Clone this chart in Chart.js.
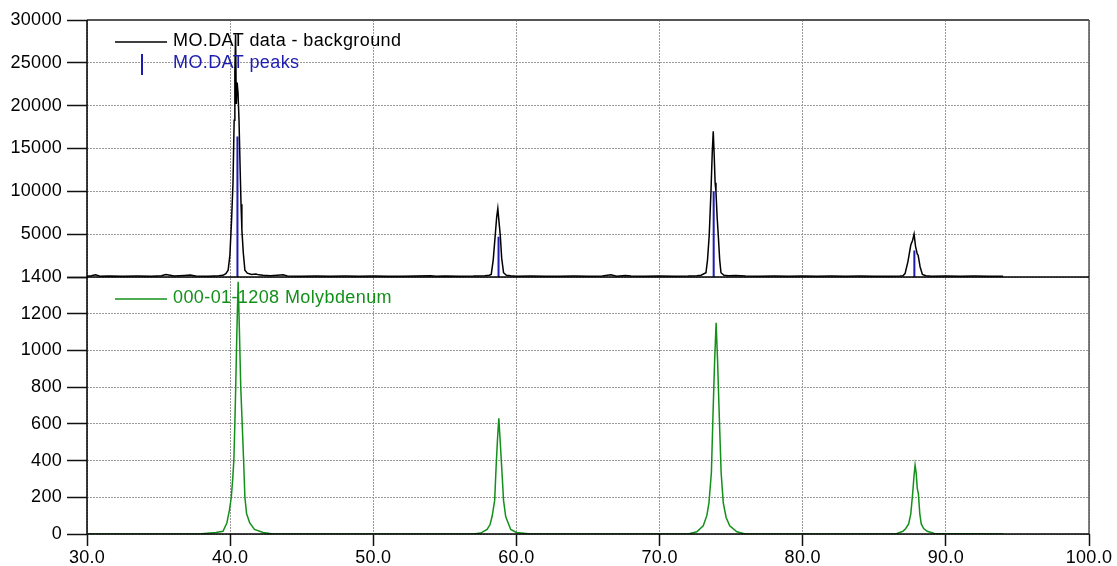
<!DOCTYPE html>
<html lang="en">
<head>
  <meta charset="UTF-8">
  <title>MO.DAT pattern</title>
  <script src="https://cdn.jsdelivr.net/npm/chart.js"></script>
  <style>
    html, body { margin: 0; padding: 0; background: #fff; }
    #wrap { width: 1117px; height: 566px; }
  </style>
</head>
<body>
  <div id="wrap"><canvas id="xrd"></canvas></div>

  <script>
    // MO.DAT data - background (top panel)
    const dataX = [30.0, 30.3, 30.6, 30.9, 31.5, 32.5, 33.5, 34.5, 35.2, 35.5, 35.8, 36.1, 36.8, 37.2, 37.6, 38.5, 39.2, 39.5, 39.7,
      39.86, 39.98, 40.1, 40.2, 40.28, 40.33, 40.38, 40.43, 40.49, 40.55, 40.62, 40.7, 40.76, 40.82, 40.92, 41.03, 41.2, 41.5, 41.8, 42.0, 42.3, 42.8, 43.3, 43.7, 44.0,
      45, 46, 47, 48, 49, 50, 51, 52, 53, 54, 54.4, 55, 56, 57, 57.8, 58.1, 58.24, 58.38, 58.52, 58.62, 58.7, 58.78, 58.87, 58.97, 59.1, 59.3, 59.6,
      60, 61, 62, 63, 64, 65, 66, 66.6, 67, 67.6, 68, 69, 70, 71, 72, 72.6, 72.9, 73.24, 73.35, 73.47, 73.59, 73.68, 73.75, 73.82, 73.88, 73.94, 74.02, 74.1, 74.2, 74.29, 74.5, 74.8, 75.3,
      76, 77, 78, 79, 80, 81, 82, 83, 84, 85, 86, 86.8, 87.0, 87.15, 87.35, 87.55, 87.68, 87.78, 87.88, 88.0, 88.06, 88.2, 88.36, 88.6, 89, 90, 91, 92, 93, 94];
    const dataY = [100, 150, 250, 100, 120, 100, 110, 100, 150, 280, 200, 120, 180, 220, 120, 100, 150, 200, 400,
      800, 2500, 6650, 11000, 18300, 24000, 28300, 20200, 22700, 21500, 18300, 12500, 8500, 5500, 2800, 800, 450, 300, 350, 250, 200, 150, 200, 250, 130,
      100, 110, 100, 110, 100, 110, 100, 100, 110, 150, 100, 120, 100, 110, 150, 200, 300, 2000, 4900, 7000, 8000, 6500, 4900, 2200, 500, 200, 150,
      100, 110, 100, 100, 110, 100, 120, 250, 100, 180, 110, 100, 110, 100, 110, 150, 200, 500, 2000, 4900, 9960, 14500, 17000, 14000, 11000, 9960, 7000, 4900, 2000, 500, 200, 150, 180,
      110, 100, 110, 100, 110, 100, 110, 100, 110, 100, 100, 120, 150, 400, 1800, 3735, 4300, 5020, 3600, 2700, 2570, 1200, 300, 150, 100, 110, 100, 110, 100, 100];

    // MO.DAT peaks (sticks)
    const peakX = [40.51, 58.75, 73.78, 87.80];
    const peakY = [16400, 4700, 10000, 3100];

    // 000-01-1208 Molybdenum (bottom panel)
    const refX = [30, 38, 39, 39.5, 39.77, 39.95, 40.08, 40.18, 40.26, 40.33, 40.39, 40.47, 40.56, 40.65, 40.74, 40.84, 40.94, 41.03, 41.15, 41.37, 41.7, 42.3, 43,
      57, 57.5, 57.95, 58.15, 58.3, 58.48, 58.58, 58.68, 58.77, 58.87, 58.97, 59.1, 59.25, 59.6, 60, 61,
      72, 72.6, 73.05, 73.3, 73.45, 73.62, 73.74, 73.85, 73.95, 74.05, 74.16, 74.3, 74.45, 74.65, 74.9, 75.4, 76,
      86.5, 87.0, 87.2, 87.4, 87.55, 87.68, 87.78, 87.85, 87.93, 88.0, 88.08, 88.18, 88.28, 88.45, 88.7, 89.2, 94];
    const refY = [0, 2, 8, 15, 60, 130, 200, 300, 403, 605, 802, 1100, 1374, 1100, 802, 605, 403, 200, 110, 60, 25, 8, 0,
      0, 5, 25, 50, 95, 183, 365, 520, 630, 500, 365, 183, 95, 25, 8, 0,
      0, 12, 45, 100, 170, 335, 670, 950, 1150, 950, 670, 335, 170, 90, 45, 12, 0,
      0, 15, 30, 55, 110, 220, 320, 375, 330, 250, 220, 110, 55, 30, 15, 3, 0];

    const xTicks = [30, 40, 50, 60, 70, 80, 90, 100];
    const topTicks = [0, 5000, 10000, 15000, 20000, 25000, 30000];
    const botTicks = [0, 200, 400, 600, 800, 1000, 1200, 1400];

    const FONT = "'Liberation Sans', Arial, sans-serif";
    const BLUE = '#1c1cb0';
    const GREEN = '#13901a';

    const pts = (xs, ys) => xs.map((x, i) => ({ x: x, y: ys[i] }));
    // each stick: baseline -> top -> gap
    const sticks = [];
    peakX.forEach((x, i) => {
      sticks.push({ x: x, y: 0 }, { x: x, y: peakY[i] }, { x: x, y: null });
    });

    const gridBase = {
      color: '#9a9a9a',
      lineWidth: 1,
      tickColor: '#111',
      tickWidth: 1.5,
      tickBorderDash: [],
    };
    const tickFont = { family: FONT, size: 18 };

    // frame, panel divider and in-plot legends
    const framePlugin = {
      id: 'frame',
      beforeDraw(chart) {
        // the original labels are drawn a little wide
        chart.ctx.letterSpacing = '0.3px';
      },
      afterDraw(chart) {
        const { ctx, chartArea: a, scales } = chart;
        const mid = scales.yBot.top;
        ctx.save();
        ctx.setLineDash([]);
        ctx.strokeStyle = '#555';
        ctx.lineWidth = 2;
        ctx.beginPath(); ctx.moveTo(a.left, a.top); ctx.lineTo(a.right, a.top); ctx.stroke();
        ctx.lineWidth = 1.5;
        ctx.beginPath(); ctx.moveTo(a.right, a.top); ctx.lineTo(a.right, a.bottom); ctx.stroke();
        ctx.strokeStyle = '#000';
        ctx.beginPath(); ctx.moveTo(a.left, mid); ctx.lineTo(a.right, mid); ctx.stroke();
        ctx.beginPath(); ctx.moveTo(a.left, a.top); ctx.lineTo(a.left, a.bottom); ctx.lineTo(a.right, a.bottom); ctx.stroke();

        // legends
        ctx.font = '18px ' + FONT;
        ctx.letterSpacing = '0.4px';
        ctx.textBaseline = 'middle';
        ctx.textAlign = 'left';
        const lx = a.left + 28, tx = a.left + 86;
        ctx.lineWidth = 1.5;
        ctx.strokeStyle = '#000';
        ctx.beginPath(); ctx.moveTo(lx, a.top + 22); ctx.lineTo(lx + 52, a.top + 22); ctx.stroke();
        ctx.fillStyle = '#000';
        ctx.fillText('MO.DAT data - background', tx, a.top + 21);
        ctx.strokeStyle = BLUE;
        ctx.lineWidth = 2;
        ctx.beginPath(); ctx.moveTo(lx + 27, a.top + 34); ctx.lineTo(lx + 27, a.top + 55); ctx.stroke();
        ctx.fillStyle = BLUE;
        ctx.fillText('MO.DAT peaks', tx, a.top + 43);
        ctx.strokeStyle = GREEN;
        ctx.lineWidth = 1.5;
        ctx.beginPath(); ctx.moveTo(lx, mid + 22); ctx.lineTo(lx + 52, mid + 22); ctx.stroke();
        ctx.fillStyle = GREEN;
        ctx.fillText('000-01-1208 Molybdenum', tx, mid + 21);
        ctx.restore();
      }
    };

    new Chart(document.getElementById('xrd').getContext('2d'), {
      type: 'line',
      data: {
        datasets: [
          {
            label: 'MO.DAT data - background',
            data: pts(dataX, dataY),
            yAxisID: 'yTop',
            borderColor: '#000',
            borderWidth: 1.5,
            pointRadius: 0,
            tension: 0,
          },
          {
            label: 'MO.DAT peaks',
            data: sticks,
            yAxisID: 'yTop',
            borderColor: BLUE,
            borderWidth: 2,
            pointRadius: 0,
            spanGaps: false,
          },
          {
            label: '000-01-1208 Molybdenum',
            data: pts(refX, refY),
            yAxisID: 'yBot',
            borderColor: GREEN,
            borderWidth: 1.5,
            pointRadius: 0,
            tension: 0,
          },
        ],
      },
      options: {
        responsive: true,
        maintainAspectRatio: false,
        animation: false,
        layout: { padding: { left: 0, top: 20, right: 28, bottom: 0 } },
        plugins: { legend: { display: false }, tooltip: { enabled: false } },
        scales: {
          x: {
            type: 'linear',
            min: 30,
            max: 100,
            afterBuildTicks: (s) => { s.ticks = xTicks.map(v => ({ value: v })); },
            afterFit: (s) => { s.height = 32; },
            ticks: {
              autoSkip: false,
              maxRotation: 0,
              padding: 1,
              color: '#000',
              font: tickFont,
              callback: (v) => Number(v).toFixed(1),
            },
            grid: { ...gridBase, tickLength: 12 },
            border: { display: false, dash: [2, 1] },
          },
          yBot: {
            type: 'linear',
            position: 'left',
            stack: 'panels',
            stackWeight: 1,
            min: 0,
            max: 1400,
            afterBuildTicks: (s) => { s.ticks = botTicks.map(v => ({ value: v })); },
            afterFit: (s) => { s.width = 87; },
            ticks: {
              autoSkip: false,
              padding: 5,
              color: '#000',
              font: tickFont,
              callback: (v) => String(v),
            },
            grid: { ...gridBase, tickLength: 20 },
            border: { display: false, dash: [2, 1] },
          },
          yTop: {
            type: 'linear',
            position: 'left',
            stack: 'panels',
            stackWeight: 1,
            min: 0,
            max: 30000,
            afterBuildTicks: (s) => { s.ticks = topTicks.map(v => ({ value: v })); },
            afterFit: (s) => { s.width = 87; },
            ticks: {
              autoSkip: false,
              padding: 5,
              color: '#000',
              font: tickFont,
              callback: (v) => (v === 0 ? '' : String(v)),
            },
            grid: { ...gridBase, tickLength: 20 },
            border: { display: false, dash: [2, 1] },
          },
        },
      },
      plugins: [framePlugin],
    });
  </script>
</body>
</html>
